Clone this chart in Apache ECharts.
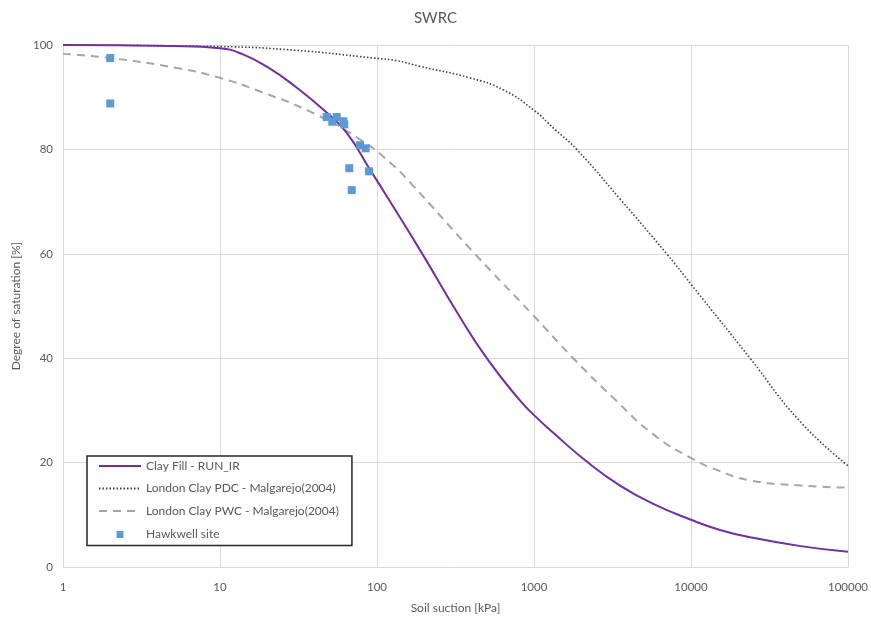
<!DOCTYPE html>
<html>
<head>
<meta charset="utf-8">
<script src="https://cdn.jsdelivr.net/npm/echarts@6/dist/echarts.min.js"></script>
<style>html,body{margin:0;padding:0;background:#fff}#c{width:871px;height:619px}</style>
</head>
<body>
<div id="c"></div>
<script>
const xTicks = [1, 10, 100, 1000, 10000, 100000];
const yTicks = [0, 20, 40, 60, 80, 100];

const clayFillX = [1, 5, 10, 14, 20, 30, 48, 64, 90, 120, 197, 322, 500, 814, 1000, 1327, 2167, 3532, 5754, 10100, 15300, 23800, 50000, 100000];
const clayFillY = [100, 99.8, 99.4, 98.2, 95.8, 92.1, 87, 83.2, 76.2, 70.2, 59.7, 48.9, 40, 31.9, 29.1, 25.7, 20.2, 15.6, 12.1, 9.0, 7.1, 5.7, 4.0, 2.9];

const pdcX = [1, 10, 30, 95, 133, 188, 391, 638, 990, 1361, 1871, 3532, 7000, 10100, 23770, 49430, 100000];
const pdcY = [100, 99.7, 99, 97.5, 97, 95.9, 93.7, 91.4, 87.6, 83.8, 80, 70.5, 60, 54, 40, 27.9, 19.4];

const pwcX = [1, 2, 5.3, 10, 18, 39, 78, 121, 162, 411, 990, 1778, 3200, 5754, 10100, 14600, 23770, 50000, 100000];
const pwcY = [98.3, 97.5, 95.6, 93.7, 91.1, 87, 81.9, 77.5, 73.7, 60.3, 48.2, 40, 32.4, 25.4, 20.8, 18.6, 16.6, 15.6, 15.2];

const siteX = [2, 2, 47.8, 51.9, 55.4, 61, 61.9, 78, 84.7, 66.6, 88.9, 69];
const siteY = [97.5, 88.8, 86.2, 85.3, 86.2, 85.4, 84.8, 80.8, 80.2, 76.4, 75.8, 72.2];

const seriesNames = ['Clay Fill - RUN_IR', 'London Clay PDC - Malgarejo(2004)', 'London Clay PWC - Malgarejo(2004)', 'Hawkwell site'];

const zip = (xs, ys) => xs.map((x, i) => [x, ys[i]]);
const FONT = 'Lato';
const TXT = '#595959';
const hideSym = { color: 'rgba(0,0,0,0)', opacity: 0, borderWidth: 0 };

const chart = echarts.init(document.getElementById('c'));
chart.setOption({
  animation: false,
  backgroundColor: '#fff',
  textStyle: { fontFamily: FONT },
  title: {
    text: 'SWRC', left: 'center', top: 6,
    textStyle: { fontFamily: FONT, fontSize: 15, fontWeight: 'normal', color: TXT }
  },
  grid: { left: 63, right: 23, top: 45, bottom: 49 },
  xAxis: {
    type: 'log', logBase: 10, min: xTicks[0], max: xTicks[xTicks.length - 1],
    name: 'Soil suction [kPa]', nameLocation: 'middle', nameGap: 35,
    nameTextStyle: { fontFamily: FONT, fontSize: 12, color: TXT },
    axisLine: { show: true, lineStyle: { color: '#d9d9d9', width: 1 } },
    axisTick: { show: false },
    axisLabel: { color: TXT, fontSize: 11.5, margin: 14, fontFamily: FONT, formatter: v => String(Math.round(v)) },
    splitLine: { show: true, lineStyle: { color: '#d9d9d9', width: 1 } },
    minorTick: { show: false }, minorSplitLine: { show: false }
  },
  yAxis: {
    type: 'value', min: yTicks[0], max: yTicks[yTicks.length - 1], interval: 20,
    name: 'Degree of saturation [%]', nameLocation: 'middle', nameGap: 40, nameRotate: 90,
    nameTextStyle: { fontFamily: FONT, fontSize: 12, color: TXT },
    axisLine: { show: false },
    axisTick: { show: false },
    axisLabel: { color: TXT, fontSize: 11.5, margin: 10, fontFamily: FONT },
    splitLine: { show: true, lineStyle: { color: '#d9d9d9', width: 1 } }
  },
  legend: {
    orient: 'vertical', left: 87, top: 456,
    padding: [4, 13, 4, 11],
    borderColor: '#262626', borderWidth: 1.5, borderRadius: 0,
    backgroundColor: '#fff',
    itemWidth: 42, itemHeight: 14, itemGap: 10.5,
    textStyle: { color: TXT, fontSize: 12, fontFamily: FONT },
    data: [
      { name: seriesNames[0], itemStyle: hideSym },
      { name: seriesNames[1], itemStyle: hideSym },
      { name: seriesNames[2], itemStyle: hideSym },
      { name: seriesNames[3], icon: 'path://M0,-14M60,14M23,-7h14v14h-14z' }
    ]
  },
  series: [
    {
      name: seriesNames[0], type: 'line', data: zip(clayFillX, clayFillY),
      showSymbol: false, symbol: 'none', smooth: 0.5, z: 4,
      lineStyle: { color: '#7030a0', width: 2 }, itemStyle: { color: '#7030a0' }
    },
    {
      name: seriesNames[1], type: 'line', data: zip(pdcX, pdcY),
      showSymbol: false, symbol: 'none', smooth: 0.5, z: 3,
      lineStyle: { color: '#404040', width: 1.6, type: [1.5, 2] }, itemStyle: { color: '#404040' }
    },
    {
      name: seriesNames[2], type: 'line', data: zip(pwcX, pwcY),
      showSymbol: false, symbol: 'none', smooth: 0.5, z: 2,
      lineStyle: { color: '#a6a6a6', width: 2, type: [8, 6] }, itemStyle: { color: '#a6a6a6' }
    },
    {
      name: seriesNames[3], type: 'scatter', data: zip(siteX, siteY),
      symbol: 'rect', symbolSize: 8, z: 5,
      itemStyle: { color: '#5b9bd5', opacity: 1 }
    }
  ]
});
</script>
</body>
</html>
